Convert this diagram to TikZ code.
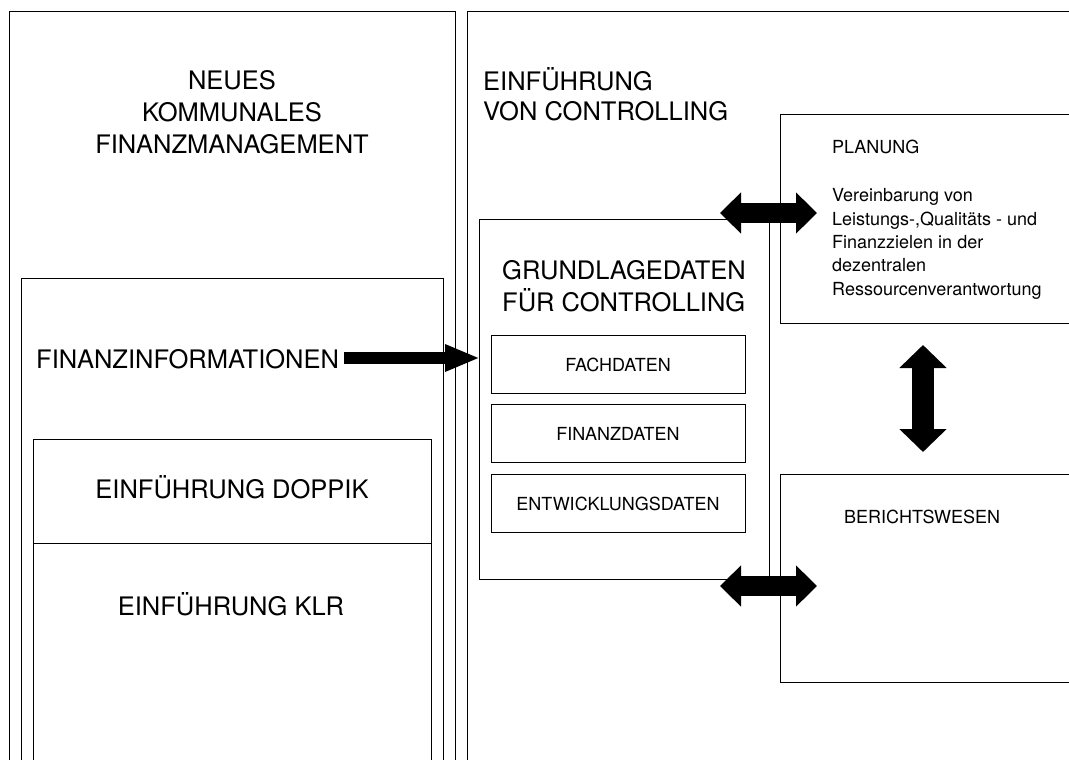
\documentclass[tikz,border=0pt]{standalone}
\usepackage{fontspec}
\setmainfont{TeX Gyre Heros}
\usetikzlibrary{arrows.meta}
\begin{document}
\begin{tikzpicture}[x=1pt,y=-1pt,
  box/.style={draw, line width=1.2pt, inner sep=0pt, anchor=north west},
  bigtext/.style={font=\fontsize{25.5}{31.5}\selectfont, inner sep=0pt},
  smalltext/.style={font=\fontsize{18}{23.3}\selectfont, inner sep=0pt},
  blockarrow/.style={line width=#1, line cap=butt},
]
\useasboundingbox (0,0) rectangle (1069,760);
\clip (0,0) rectangle (1069,760);
\fill[white] (0,0) rectangle (1069,760);

% outer frames
\node[box, minimum width=446pt, minimum height=800pt] (nkf) at (9,11) {};
\node[box, minimum width=700pt, minimum height=800pt] (evc) at (467,11) {};

% left column
\node[box, minimum width=422pt, minimum height=600pt] (fin) at (21,278) {};
\node[box, minimum width=398pt, minimum height=104pt] (doppik) at (33,439) {};
\node[box, minimum width=398pt, minimum height=400pt] (klr) at (33,543) {};

% middle column
\node[box, minimum width=290pt, minimum height=360pt] (grund) at (479,219) {};
\node[box, minimum width=254pt, minimum height=58pt] (fach) at (491,335) {};
\node[box, minimum width=254pt, minimum height=58pt] (finanz) at (491,404) {};
\node[box, minimum width=254pt, minimum height=58pt] (entw) at (491,474) {};

% right column
\node[box, minimum width=400pt, minimum height=209pt] (plan) at (780,114) {};
\node[box, minimum width=400pt, minimum height=208pt] (ber) at (780,474) {};

% texts (multi-line nodes: base = last line's baseline)
\node[bigtext, align=center, anchor=base] (tnkf) at (232,153) {NEUES\\KOMMUNALES\\FINANZMANAGEMENT};
\node[bigtext, font=\fontsize{25.5}{30}\selectfont, align=left, anchor=base west] (tevc) at (483,121) {EINFÜHRUNG\\VON CONTROLLING};
\node[bigtext, anchor=base west] (tfin) at (36,368) {FINANZINFORMATIONEN};
\node[bigtext, anchor=base] (tdoppik) at (232,498) {EINFÜHRUNG DOPPIK};
\node[bigtext, anchor=base] (tklr) at (231,615) {EINFÜHRUNG KLR};
\node[bigtext, font=\fontsize{25.5}{32}\selectfont, align=left, anchor=base west] (tgrund) at (502,311) {GRUNDLAGEDATEN\\FÜR CONTROLLING};
\node[smalltext, anchor=base] (tfach) at (618,371) {FACHDATEN};
\node[smalltext, anchor=base] (tfinanz) at (618,440) {FINANZDATEN};
\node[smalltext, anchor=base] (tentw) at (618,510) {ENTWICKLUNGSDATEN};
\node[smalltext, anchor=base west] (tplan) at (832,153) {PLANUNG};
\node[smalltext, align=left, anchor=base west] (tverein) at (832,295)
  {Vereinbarung von\\Leistungs-,Qualitäts - und\\Finanzzielen in der\\dezentralen\\Ressourcenverantwortung};
\node[smalltext, anchor=base west] (tber) at (844,523) {BERICHTSWESEN};

% arrow end points
\coordinate (a1) at (344,358);
\coordinate (a2) at (480,358);
\coordinate (b1) at (720,213);
\coordinate (b2) at (817,213);
\coordinate (c1) at (720,586);
\coordinate (c2) at (817,586);
\coordinate (d1) at (923,345);
\coordinate (d2) at (923,452);

% block arrows
\draw[blockarrow=12pt, -{Triangle[width=25pt,length=35pt]}] (a1) -- (a2);
\draw[blockarrow=20pt, {Triangle[width=40pt,length=21pt]}-{Triangle[width=40pt,length=21pt]}] (b1) -- (b2);
\draw[blockarrow=20pt, {Triangle[width=40pt,length=21pt]}-{Triangle[width=40pt,length=21pt]}] (c1) -- (c2);
\draw[blockarrow=22pt, {Triangle[width=46pt,length=23pt]}-{Triangle[width=46pt,length=23pt]}] (d1) -- (d2);
\end{tikzpicture}
\end{document}
